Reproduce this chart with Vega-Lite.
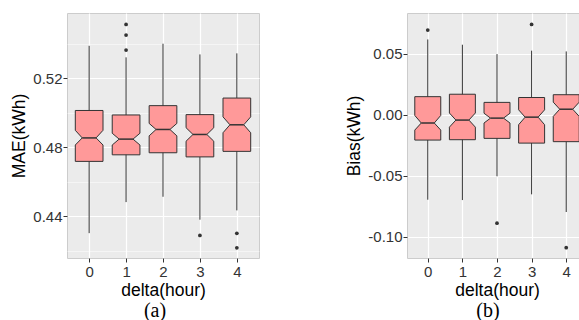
{
  "$schema": "https://vega.github.io/schema/vega-lite/v6.json",
  "padding": {"left": 10, "top": 12, "right": 0, "bottom": 0},
  "spacing": 85,
  "config": {
    "view": {"fill": "#EBEBEB", "stroke": "#CCCCCC", "strokeWidth": 1},
    "font": "Liberation Sans",
    "axis": {
      "labelFont": "Liberation Sans", "labelFontSize": 15, "labelColor": "#333333",
      "titleFont": "Liberation Sans", "titleFontSize": 17.5, "titleFontWeight": "normal", "titleColor": "#000000",
      "domain": false, "tickColor": "#333333", "tickSize": 4, "labelPadding": 1, "gridColor": "#FFFFFF"
    },
    "title": {"font": "Liberation Serif", "fontSize": 20, "fontWeight": "normal", "color": "#000000"}
  },
  "datasets": {
    "mae": [
      {"delta": 0, "lo": 0.4301, "q1": 0.4717, "nlo": 0.4812, "med": 0.4853, "nhi": 0.4897, "q3": 0.5012, "hi": 0.5387},
      {"delta": 1, "lo": 0.4481, "q1": 0.4755, "nlo": 0.4812, "med": 0.4846, "nhi": 0.4880, "q3": 0.4986, "hi": 0.5320},
      {"delta": 2, "lo": 0.4512, "q1": 0.4767, "nlo": 0.4865, "med": 0.4902, "nhi": 0.4937, "q3": 0.5040, "hi": 0.5399},
      {"delta": 3, "lo": 0.4379, "q1": 0.4743, "nlo": 0.4834, "med": 0.4873, "nhi": 0.4912, "q3": 0.4988, "hi": 0.5337},
      {"delta": 4, "lo": 0.4433, "q1": 0.4775, "nlo": 0.4883, "med": 0.4929, "nhi": 0.4975, "q3": 0.5084, "hi": 0.5343}
    ],
    "mae_out": [
      {"delta": 1, "value": 0.5362},
      {"delta": 1, "value": 0.5449},
      {"delta": 1, "value": 0.5511},
      {"delta": 3, "value": 0.4288},
      {"delta": 4, "value": 0.4300},
      {"delta": 4, "value": 0.4216}
    ],
    "bias": [
      {"delta": 0, "lo": -0.0697, "q1": -0.0208, "nlo": -0.0126, "med": -0.0068, "nhi": -0.0006, "q3": 0.0148, "hi": 0.0617},
      {"delta": 1, "lo": -0.0700, "q1": -0.0205, "nlo": -0.0102, "med": -0.0044, "nhi": 0.0014, "q3": 0.0168, "hi": 0.0574},
      {"delta": 2, "lo": -0.0505, "q1": -0.0194, "nlo": -0.0068, "med": -0.0028, "nhi": 0.0012, "q3": 0.0101, "hi": 0.0497},
      {"delta": 3, "lo": -0.0653, "q1": -0.0233, "nlo": -0.0082, "med": -0.0020, "nhi": 0.0040, "q3": 0.0141, "hi": 0.0525},
      {"delta": 4, "lo": -0.0798, "q1": -0.0221, "nlo": -0.0014, "med": 0.0045, "nhi": 0.0103, "q3": 0.0164, "hi": 0.0519}
    ],
    "bias_out": [
      {"delta": 0, "value": 0.0694},
      {"delta": 2, "value": -0.0890},
      {"delta": 3, "value": 0.0740},
      {"delta": 4, "value": -0.1090}
    ]
  },
  "hconcat": [
    {
      "width": 192, "height": 245,
      "title": {"text": "(a)", "orient": "bottom", "anchor": "middle", "dx": -8, "offset": 2},
      "layer": [
        {
          "data": {"name": "mae"},
          "mark": {"type": "rule", "color": "#333333", "strokeWidth": 1},
          "encoding": {
            "x": {"field": "delta", "type": "quantitative", "title": "delta(hour)",
              "scale": {"domain": [-0.6, 4.6], "nice": false, "zero": false},
              "axis": {"values": [0, 1, 2, 3, 4], "format": "d", "gridWidth": 1.2, "labelPadding": 2, "titlePadding": 2}},
            "y": {"field": "lo", "type": "quantitative", "title": "MAE(kWh)",
              "scale": {"domain": [0.4157, 0.5577], "nice": false, "zero": false},
              "axis": {
                "values": [0.42, 0.44, 0.46, 0.48, 0.5, 0.52, 0.54],
                "labelExpr": "indexof([0.44, 0.48, 0.52], datum.value) >= 0 ? format(datum.value, '.2f') : ''",
                "tickOpacity": {"condition": {"test": "indexof([0.44, 0.48, 0.52], datum.value) >= 0", "value": 1}, "value": 0},
                "gridWidth": {"condition": {"test": "indexof([0.44, 0.48, 0.52], datum.value) >= 0", "value": 1.2}, "value": 0.5},
                "titlePadding": 4
              }},
            "y2": {"field": "hi"}
          }
        },
        {
          "data": {"name": "mae"},
          "transform": [
            {"fold": ["q1", "nlo", "med", "nhi", "q3"], "as": ["stat", "val"]},
            {"calculate": "[-1, 1]", "as": "side"},
            {"flatten": ["side"]},
            {"calculate": "indexof(['q1', 'nlo', 'med', 'nhi', 'q3'], datum.stat)", "as": "idx"},
            {"calculate": "datum.side < 0 ? datum.idx : 9 - datum.idx", "as": "ord"},
            {"calculate": "datum.delta + datum.side * (datum.stat === 'med' ? 0.1875 : 0.375)", "as": "px"}
          ],
          "mark": {"type": "line", "fill": "#FF9999", "stroke": "#333333", "strokeWidth": 1, "interpolate": "linear"},
          "encoding": {
            "x": {"field": "px", "type": "quantitative", "title": "delta(hour)"},
            "y": {"field": "val", "type": "quantitative", "title": "MAE(kWh)"},
            "detail": {"field": "delta", "type": "nominal"},
            "order": {"field": "ord", "type": "quantitative"}
          }
        },
        {
          "data": {"name": "mae"},
          "transform": [
            {"calculate": "datum.delta - 0.375", "as": "qa"},
            {"calculate": "datum.delta + 0.375", "as": "qb"}
          ],
          "mark": {"type": "rule", "color": "#333333", "strokeWidth": 1},
          "encoding": {
            "x": {"field": "qa", "type": "quantitative", "title": "delta(hour)"},
            "x2": {"field": "qb"},
            "y": {"field": "q1", "type": "quantitative", "title": "MAE(kWh)"}
          }
        },
        {
          "data": {"name": "mae"},
          "transform": [
            {"calculate": "datum.delta - 0.1875", "as": "ma"},
            {"calculate": "datum.delta + 0.1875", "as": "mb"}
          ],
          "mark": {"type": "rule", "color": "#333333", "strokeWidth": 1.5},
          "encoding": {
            "x": {"field": "ma", "type": "quantitative", "title": "delta(hour)"},
            "x2": {"field": "mb"},
            "y": {"field": "med", "type": "quantitative", "title": "MAE(kWh)"}
          }
        },
        {
          "data": {"name": "mae_out"},
          "mark": {"type": "point", "filled": true, "color": "#333333", "size": 14, "opacity": 1},
          "encoding": {
            "x": {"field": "delta", "type": "quantitative", "title": "delta(hour)"},
            "y": {"field": "value", "type": "quantitative", "title": "MAE(kWh)"}
          }
        }
      ]
    },
    {
      "width": 180, "height": 245,
      "title": {"text": "(b)", "orient": "bottom", "anchor": "middle", "dx": -9, "offset": 2},
      "layer": [
        {
          "data": {"name": "bias"},
          "mark": {"type": "rule", "color": "#333333", "strokeWidth": 1},
          "encoding": {
            "x": {"field": "delta", "type": "quantitative", "title": "delta(hour)",
              "scale": {"domain": [-0.6, 4.6], "nice": false, "zero": false},
              "axis": {"values": [0, 1, 2, 3, 4], "format": "d", "gridWidth": 1.2, "labelPadding": 2, "titlePadding": 2}},
            "y": {"field": "lo", "type": "quantitative", "title": "Bias(kWh)",
              "scale": {"domain": [-0.1175, 0.0834], "nice": false, "zero": false},
              "axis": {
                "values": [-0.1, -0.075, -0.05, -0.025, 0, 0.025, 0.05, 0.075],
                "labelExpr": "indexof([-0.1, -0.05, 0, 0.05], datum.value) >= 0 ? (datum.value < 0 ? '-' : '') + format(abs(datum.value), '.2f') : ''",
                "tickOpacity": {"condition": {"test": "indexof([-0.1, -0.05, 0, 0.05], datum.value) >= 0", "value": 1}, "value": 0},
                "gridWidth": {"condition": {"test": "indexof([-0.1, -0.05, 0, 0.05], datum.value) >= 0", "value": 1.2}, "value": 0.5},
                "titlePadding": 4
              }},
            "y2": {"field": "hi"}
          }
        },
        {
          "data": {"name": "bias"},
          "transform": [
            {"fold": ["q1", "nlo", "med", "nhi", "q3"], "as": ["stat", "val"]},
            {"calculate": "[-1, 1]", "as": "side"},
            {"flatten": ["side"]},
            {"calculate": "indexof(['q1', 'nlo', 'med', 'nhi', 'q3'], datum.stat)", "as": "idx"},
            {"calculate": "datum.side < 0 ? datum.idx : 9 - datum.idx", "as": "ord"},
            {"calculate": "datum.delta + datum.side * (datum.stat === 'med' ? 0.1875 : 0.375)", "as": "px"}
          ],
          "mark": {"type": "line", "fill": "#FF9999", "stroke": "#333333", "strokeWidth": 1, "interpolate": "linear"},
          "encoding": {
            "x": {"field": "px", "type": "quantitative", "title": "delta(hour)"},
            "y": {"field": "val", "type": "quantitative", "title": "Bias(kWh)"},
            "detail": {"field": "delta", "type": "nominal"},
            "order": {"field": "ord", "type": "quantitative"}
          }
        },
        {
          "data": {"name": "bias"},
          "transform": [
            {"calculate": "datum.delta - 0.375", "as": "qa"},
            {"calculate": "datum.delta + 0.375", "as": "qb"}
          ],
          "mark": {"type": "rule", "color": "#333333", "strokeWidth": 1},
          "encoding": {
            "x": {"field": "qa", "type": "quantitative", "title": "delta(hour)"},
            "x2": {"field": "qb"},
            "y": {"field": "q1", "type": "quantitative", "title": "Bias(kWh)"}
          }
        },
        {
          "data": {"name": "bias"},
          "transform": [
            {"calculate": "datum.delta - 0.1875", "as": "ma"},
            {"calculate": "datum.delta + 0.1875", "as": "mb"}
          ],
          "mark": {"type": "rule", "color": "#333333", "strokeWidth": 1.5},
          "encoding": {
            "x": {"field": "ma", "type": "quantitative", "title": "delta(hour)"},
            "x2": {"field": "mb"},
            "y": {"field": "med", "type": "quantitative", "title": "Bias(kWh)"}
          }
        },
        {
          "data": {"name": "bias_out"},
          "mark": {"type": "point", "filled": true, "color": "#333333", "size": 14, "opacity": 1},
          "encoding": {
            "x": {"field": "delta", "type": "quantitative", "title": "delta(hour)"},
            "y": {"field": "value", "type": "quantitative", "title": "Bias(kWh)"}
          }
        }
      ]
    }
  ]
}
